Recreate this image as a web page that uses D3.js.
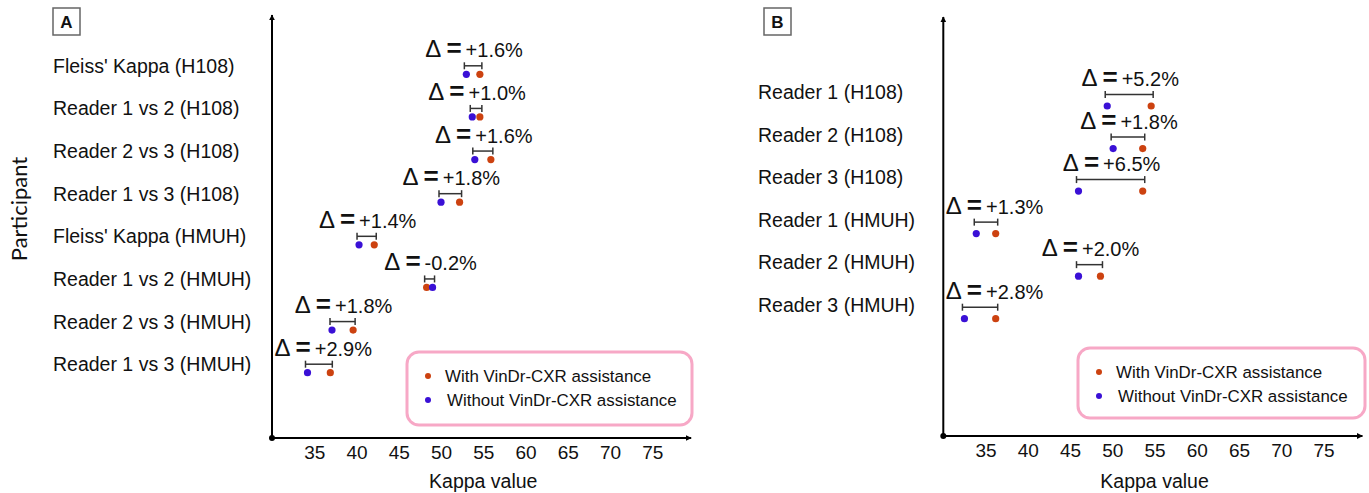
<!DOCTYPE html>
<html>
<head>
<meta charset="utf-8">
<script src="https://cdn.jsdelivr.net/npm/d3@7"></script>
<style>
  body { margin: 0; background: #fff; }
  text { font-family: "Liberation Sans", Arial, sans-serif; fill: #111; }
</style>
</head>
<body>
<svg id="chart" width="1369" height="493"></svg>
<script>
// ---- data ----
const ticks = [35, 40, 45, 50, 55, 60, 65, 70, 75];

const catsA = ["Fleiss' Kappa (H108)", "Reader 1 vs 2 (H108)", "Reader 2 vs 3 (H108)", "Reader 1 vs 3 (H108)",
  "Fleiss' Kappa (HMUH)", "Reader 1 vs 2 (HMUH)", "Reader 2 vs 3 (HMUH)", "Reader 1 vs 3 (HMUH)"];
const withA = [54.6, 54.6, 55.9, 52.2, 42.1, 48.3, 39.6, 36.9];
const withoutA = [53.0, 53.7, 54.0, 50.0, 40.3, 49.0, 37.1, 34.2];
const deltaA = ["+1.6%", "+1.0%", "+1.6%", "+1.8%", "+1.4%", "-0.2%", "+1.8%", "+2.9%"];

const catsB = ["Reader 1 (H108)", "Reader 2 (H108)", "Reader 3 (H108)",
  "Reader 1 (HMUH)", "Reader 2 (HMUH)", "Reader 3 (HMUH)"];
const withB = [54.6, 53.6, 53.6, 36.2, 48.6, 36.2];
const withoutB = [49.4, 50.1, 46.0, 33.9, 46.0, 32.5];
const deltaB = ["+5.2%", "+1.8%", "+6.5%", "+1.3%", "+2.0%", "+2.8%"];

const legendLabels = ["With VinDr-CXR assistance", "Without VinDr-CXR assistance"];
const colWith = '#cc4210';
const colWithout = '#3a10d6';

const svg = d3.select('#chart');

svg.append('defs').append('marker')
    .attr('id', 'arrow')
    .attr('viewBox', '0 0 10 10')
    .attr('refX', 9).attr('refY', 5)
    .attr('markerWidth', 6).attr('markerHeight', 6)
    .attr('markerUnits', 'userSpaceOnUse')
    .attr('orient', 'auto')
  .append('path')
    .attr('d', 'M0,0 L10,5 L0,10 z')
    .attr('fill', '#000');

// y axis title
svg.append('text')
    .attr('transform', 'translate(27, 209) rotate(-90)')
    .attr('text-anchor', 'middle')
    .style('font-family', 'Lato, "Open Sans", sans-serif')
    .style('font-size', '22px')
    .text('Participant');

function drawPanel(p) {
  const x = d3.scaleLinear().domain([30, 80]).range([p.x0, p.x0 + 50 * 8.45]);
  const y = d3.scalePoint().domain(p.cats).range(p.yRange);

  const g = svg.append('g');

  // panel letter box
  g.append('rect')
      .attr('x', p.boxX).attr('y', 8).attr('width', 27).attr('height', 27)
      .attr('fill', '#fff').attr('stroke', '#666').attr('stroke-width', 1.5);
  g.append('text')
      .attr('x', p.boxX + 13.5).attr('y', 28)
      .attr('text-anchor', 'middle')
      .style('font-size', '17px').style('font-weight', 'bold')
      .text(p.letter);

  // axes with arrows
  g.append('line')
      .attr('x1', p.x0).attr('y1', p.y0).attr('x2', p.x0).attr('y2', p.yTop)
      .attr('stroke', '#000').attr('stroke-width', 2).attr('marker-end', 'url(#arrow)');
  g.append('line')
      .attr('x1', p.x0).attr('y1', p.y0).attr('x2', x(79.6)).attr('y2', p.y0)
      .attr('stroke', '#000').attr('stroke-width', 2).attr('marker-end', 'url(#arrow)');
  g.append('circle').attr('cx', p.x0).attr('cy', p.y0).attr('r', 3).attr('fill', '#000');

  const ax = g.append('g')
      .attr('transform', `translate(0, ${p.y0})`)
      .call(d3.axisBottom(x).tickValues(ticks).tickSize(0).tickPadding(8));
  ax.select('.domain').remove();
  ax.selectAll('text')
      .style('font-family', '"Liberation Sans", Arial, sans-serif')
      .style('font-size', '19px').attr('fill', '#111');

  g.append('text')
      .attr('x', (x(35) + x(75)) / 2).attr('y', 488)
      .attr('text-anchor', 'middle')
      .style('font-size', '19.5px')
      .text('Kappa value');

  // category labels
  g.selectAll('.cat')
    .data(p.cats)
    .enter().append('text')
      .attr('class', 'cat')
      .attr('x', p.labelX)
      .attr('y', d => y(d) + p.catDy)
      .style('font-size', '19.5px')
      .text(d => d);

  // rows
  p.cats.forEach((c, i) => {
    const yy = y(c);
    const a = x(p.without[i]);
    const b = x(p.with[i]);
    const lo = Math.min(a, b) - 2;
    const hi = Math.max(a, b) + 2;
    const by = yy + p.barDy;

    g.append('line').attr('x1', lo).attr('x2', hi).attr('y1', by).attr('y2', by)
        .attr('stroke', '#333').attr('stroke-width', 1.5);
    [lo, hi].forEach(v => {
      g.append('line').attr('x1', v).attr('x2', v).attr('y1', by - 3.5).attr('y2', by + 3.5)
          .attr('stroke', '#333').attr('stroke-width', 1.5);
    });

    g.append('circle').attr('cx', b).attr('cy', yy).attr('r', 3.6).attr('fill', colWith);
    g.append('circle').attr('cx', a).attr('cy', yy).attr('r', 3.6).attr('fill', colWithout);

    const t = g.append('text')
        .attr('y', yy + p.textDy)
        .attr('text-anchor', 'middle');
    t.append('tspan').style('font-size', '24px').text('\u0394');
    t.append('tspan').attr('dx', 5).style('font-size', '26px').style('font-weight', 'bold').text('=');
    t.append('tspan').attr('dx', 4).style('font-size', '20px').text(p.delta[i]);
    const w = t.node().getComputedTextLength();
    const cx = Math.max((a + b) / 2 + 1, p.x0 + 7 + w / 2);
    t.attr('x', cx);
  });

  // legend
  const lg = g.append('g').attr('transform', `translate(${p.legX}, ${p.legY})`);
  lg.append('rect')
      .attr('width', p.legW).attr('height', p.legH).attr('rx', 12)
      .attr('fill', '#fff').attr('stroke', '#f7a8c6').attr('stroke-width', 3);
  legendLabels.forEach((l, i) => {
    lg.append('circle').attr('cx', 21).attr('cy', 24 + i * 24).attr('r', 3)
        .attr('fill', i === 0 ? colWith : colWithout);
    lg.append('text').attr('x', 38 + i * 2).attr('y', 30 + i * 24)
        .style('font-size', '16.9px').text(l);
  });
}

drawPanel({
  letter: 'A', boxX: 53, x0: 272, y0: 438, yTop: 15,
  cats: catsA, with: withA, without: withoutA, delta: deltaA,
  yRange: [74.3, 372.7], labelX: 53, catDy: -1.5, barDy: -8.5, textDy: -17,
  legX: 407, legY: 352, legW: 285, legH: 73
});

drawPanel({
  letter: 'B', boxX: 764, x0: 943.3, y0: 436, yTop: 17,
  cats: catsB, with: withB, without: withoutB, delta: deltaB,
  yRange: [106, 318.7], labelX: 758, catDy: -7, barDy: -11.5, textDy: -20,
  legX: 1078, legY: 348, legW: 287, legH: 70
});
</script>
</body>
</html>
